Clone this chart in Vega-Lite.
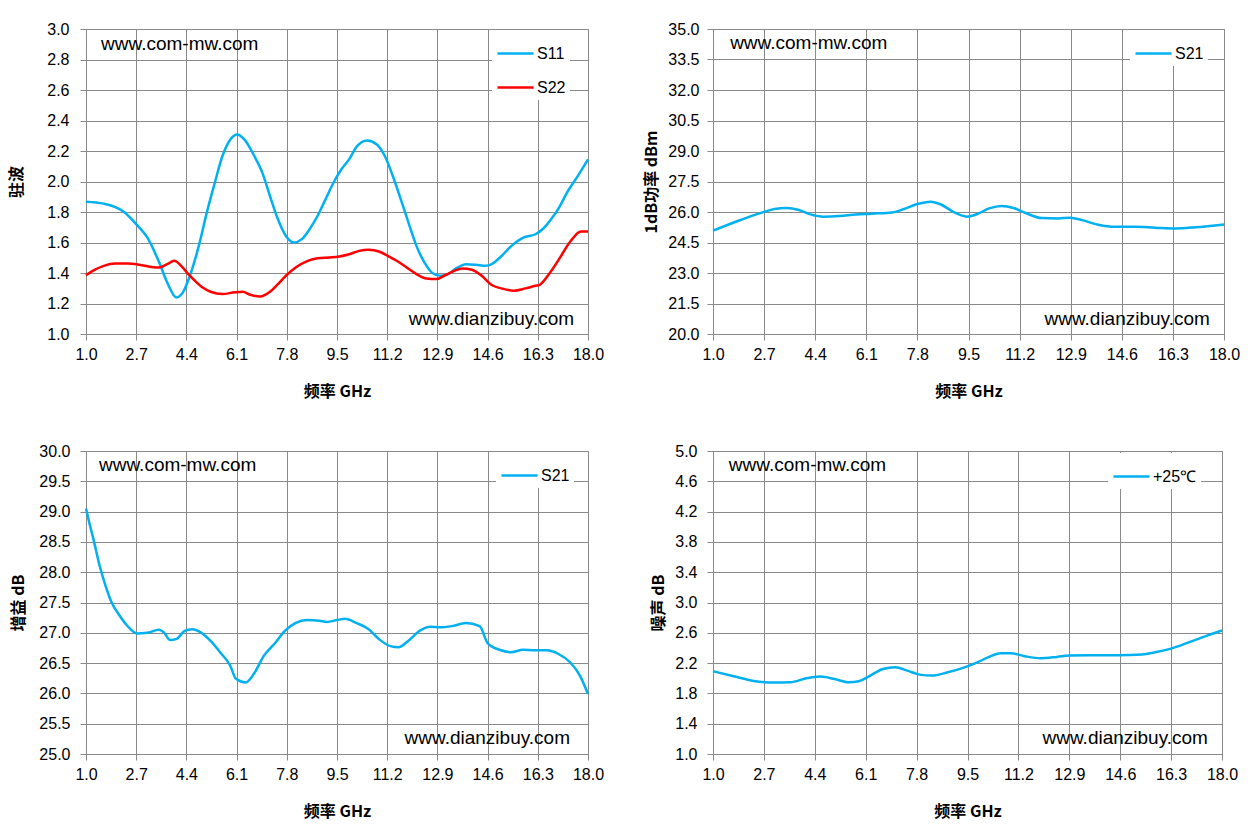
{
  "$schema": "https://vega.github.io/schema/vega-lite/v6.json",
  "padding": {"top": 20, "left": 8, "right": 5, "bottom": 5},
  "background": "white",
  "datasets": {
    "vswr": [
      {"f": 1.0, "v": 1.868, "s": "S11"}, {"f": 1.6, "v": 1.855, "s": "S11"}, {"f": 2.27, "v": 1.803, "s": "S11"},
      {"f": 2.7, "v": 1.72, "s": "S11"}, {"f": 3.08, "v": 1.632, "s": "S11"}, {"f": 3.48, "v": 1.469, "s": "S11"},
      {"f": 3.75, "v": 1.338, "s": "S11"}, {"f": 4.06, "v": 1.24, "s": "S11"}, {"f": 4.28, "v": 1.273, "s": "S11"},
      {"f": 4.55, "v": 1.4, "s": "S11"}, {"f": 4.82, "v": 1.578, "s": "S11"}, {"f": 5.09, "v": 1.796, "s": "S11"},
      {"f": 5.36, "v": 1.99, "s": "S11"}, {"f": 5.62, "v": 2.167, "s": "S11"}, {"f": 5.89, "v": 2.276, "s": "S11"},
      {"f": 6.12, "v": 2.309, "s": "S11"}, {"f": 6.36, "v": 2.276, "s": "S11"}, {"f": 6.7, "v": 2.167, "s": "S11"},
      {"f": 6.97, "v": 2.058, "s": "S11"}, {"f": 7.23, "v": 1.905, "s": "S11"}, {"f": 7.5, "v": 1.752, "s": "S11"},
      {"f": 7.77, "v": 1.643, "s": "S11"}, {"f": 8.04, "v": 1.6, "s": "S11"}, {"f": 8.31, "v": 1.622, "s": "S11"},
      {"f": 8.57, "v": 1.687, "s": "S11"}, {"f": 8.84, "v": 1.774, "s": "S11"}, {"f": 9.11, "v": 1.883, "s": "S11"},
      {"f": 9.38, "v": 1.992, "s": "S11"}, {"f": 9.65, "v": 2.08, "s": "S11"}, {"f": 9.91, "v": 2.145, "s": "S11"},
      {"f": 10.18, "v": 2.232, "s": "S11"}, {"f": 10.52, "v": 2.269, "s": "S11"}, {"f": 10.85, "v": 2.243, "s": "S11"},
      {"f": 11.12, "v": 2.167, "s": "S11"}, {"f": 11.39, "v": 2.036, "s": "S11"}, {"f": 11.66, "v": 1.883, "s": "S11"},
      {"f": 11.92, "v": 1.73, "s": "S11"}, {"f": 12.19, "v": 1.578, "s": "S11"}, {"f": 12.46, "v": 1.469, "s": "S11"},
      {"f": 12.73, "v": 1.4, "s": "S11"}, {"f": 13.0, "v": 1.382, "s": "S11"}, {"f": 13.27, "v": 1.393, "s": "S11"},
      {"f": 13.53, "v": 1.43, "s": "S11"}, {"f": 13.87, "v": 1.458, "s": "S11"}, {"f": 14.2, "v": 1.454, "s": "S11"},
      {"f": 14.54, "v": 1.447, "s": "S11"}, {"f": 14.74, "v": 1.458, "s": "S11"}, {"f": 15.01, "v": 1.5, "s": "S11"},
      {"f": 15.41, "v": 1.578, "s": "S11"}, {"f": 15.81, "v": 1.632, "s": "S11"}, {"f": 16.22, "v": 1.654, "s": "S11"},
      {"f": 16.48, "v": 1.69, "s": "S11"}, {"f": 16.75, "v": 1.752, "s": "S11"}, {"f": 17.02, "v": 1.829, "s": "S11"},
      {"f": 17.29, "v": 1.927, "s": "S11"}, {"f": 17.69, "v": 2.047, "s": "S11"}, {"f": 18.0, "v": 2.145, "s": "S11"},
      {"f": 1.0, "v": 1.386, "s": "S22"}, {"f": 1.34, "v": 1.425, "s": "S22"}, {"f": 1.6, "v": 1.447, "s": "S22"},
      {"f": 2.0, "v": 1.462, "s": "S22"}, {"f": 2.41, "v": 1.462, "s": "S22"}, {"f": 2.81, "v": 1.454, "s": "S22"},
      {"f": 3.21, "v": 1.44, "s": "S22"}, {"f": 3.48, "v": 1.436, "s": "S22"}, {"f": 3.75, "v": 1.458, "s": "S22"},
      {"f": 3.99, "v": 1.48, "s": "S22"}, {"f": 4.22, "v": 1.447, "s": "S22"}, {"f": 4.42, "v": 1.403, "s": "S22"},
      {"f": 4.69, "v": 1.349, "s": "S22"}, {"f": 4.95, "v": 1.305, "s": "S22"}, {"f": 5.22, "v": 1.277, "s": "S22"},
      {"f": 5.62, "v": 1.262, "s": "S22"}, {"f": 6.03, "v": 1.273, "s": "S22"}, {"f": 6.3, "v": 1.277, "s": "S22"},
      {"f": 6.56, "v": 1.257, "s": "S22"}, {"f": 6.9, "v": 1.246, "s": "S22"}, {"f": 7.23, "v": 1.277, "s": "S22"},
      {"f": 7.5, "v": 1.327, "s": "S22"}, {"f": 7.77, "v": 1.382, "s": "S22"}, {"f": 8.1, "v": 1.436, "s": "S22"},
      {"f": 8.51, "v": 1.48, "s": "S22"}, {"f": 8.84, "v": 1.497, "s": "S22"}, {"f": 9.24, "v": 1.502, "s": "S22"},
      {"f": 9.58, "v": 1.508, "s": "S22"}, {"f": 9.91, "v": 1.523, "s": "S22"}, {"f": 10.25, "v": 1.545, "s": "S22"},
      {"f": 10.58, "v": 1.552, "s": "S22"}, {"f": 10.92, "v": 1.541, "s": "S22"}, {"f": 11.26, "v": 1.508, "s": "S22"},
      {"f": 11.52, "v": 1.48, "s": "S22"}, {"f": 11.86, "v": 1.436, "s": "S22"}, {"f": 12.19, "v": 1.393, "s": "S22"},
      {"f": 12.53, "v": 1.364, "s": "S22"}, {"f": 12.86, "v": 1.36, "s": "S22"}, {"f": 13.13, "v": 1.382, "s": "S22"},
      {"f": 13.47, "v": 1.414, "s": "S22"}, {"f": 13.74, "v": 1.43, "s": "S22"}, {"f": 14.07, "v": 1.421, "s": "S22"},
      {"f": 14.4, "v": 1.382, "s": "S22"}, {"f": 14.74, "v": 1.321, "s": "S22"}, {"f": 15.07, "v": 1.299, "s": "S22"},
      {"f": 15.48, "v": 1.284, "s": "S22"}, {"f": 15.88, "v": 1.299, "s": "S22"}, {"f": 16.22, "v": 1.316, "s": "S22"},
      {"f": 16.35, "v": 1.321, "s": "S22"}, {"f": 16.68, "v": 1.393, "s": "S22"}, {"f": 17.02, "v": 1.491, "s": "S22"},
      {"f": 17.42, "v": 1.611, "s": "S22"}, {"f": 17.76, "v": 1.672, "s": "S22"}, {"f": 18.0, "v": 1.672, "s": "S22"}
    ],
    "p1db": [
      {"f": 1.0, "v": 25.08, "s": "S21"}, {"f": 1.85, "v": 25.57, "s": "S21"}, {"f": 2.65, "v": 25.98, "s": "S21"},
      {"f": 3.05, "v": 26.15, "s": "S21"}, {"f": 3.45, "v": 26.2, "s": "S21"}, {"f": 3.86, "v": 26.1, "s": "S21"},
      {"f": 4.27, "v": 25.87, "s": "S21"}, {"f": 4.67, "v": 25.77, "s": "S21"}, {"f": 5.21, "v": 25.8, "s": "S21"},
      {"f": 5.75, "v": 25.88, "s": "S21"}, {"f": 6.29, "v": 25.92, "s": "S21"}, {"f": 6.96, "v": 25.98, "s": "S21"},
      {"f": 7.36, "v": 26.15, "s": "S21"}, {"f": 7.77, "v": 26.38, "s": "S21"}, {"f": 8.24, "v": 26.51, "s": "S21"},
      {"f": 8.57, "v": 26.38, "s": "S21"}, {"f": 8.98, "v": 26.02, "s": "S21"}, {"f": 9.45, "v": 25.77, "s": "S21"},
      {"f": 9.79, "v": 25.9, "s": "S21"}, {"f": 10.19, "v": 26.18, "s": "S21"}, {"f": 10.6, "v": 26.3, "s": "S21"},
      {"f": 11.0, "v": 26.2, "s": "S21"}, {"f": 11.4, "v": 25.95, "s": "S21"}, {"f": 11.94, "v": 25.7, "s": "S21"},
      {"f": 12.48, "v": 25.68, "s": "S21"}, {"f": 12.88, "v": 25.72, "s": "S21"}, {"f": 13.28, "v": 25.6, "s": "S21"},
      {"f": 13.82, "v": 25.37, "s": "S21"}, {"f": 14.36, "v": 25.27, "s": "S21"}, {"f": 15.03, "v": 25.27, "s": "S21"},
      {"f": 15.7, "v": 25.23, "s": "S21"}, {"f": 16.38, "v": 25.19, "s": "S21"}, {"f": 17.05, "v": 25.25, "s": "S21"},
      {"f": 18.0, "v": 25.39, "s": "S21"}
    ],
    "gain": [
      {"f": 1.0, "v": 29.05, "s": "S21"}, {"f": 1.12, "v": 28.8, "s": "S21"}, {"f": 1.25, "v": 28.55, "s": "S21"},
      {"f": 1.46, "v": 28.11, "s": "S21"}, {"f": 1.66, "v": 27.78, "s": "S21"}, {"f": 1.86, "v": 27.51, "s": "S21"},
      {"f": 2.13, "v": 27.29, "s": "S21"}, {"f": 2.39, "v": 27.12, "s": "S21"}, {"f": 2.73, "v": 26.99, "s": "S21"},
      {"f": 3.07, "v": 27.0, "s": "S21"}, {"f": 3.47, "v": 27.05, "s": "S21"}, {"f": 3.63, "v": 27.01, "s": "S21"},
      {"f": 3.85, "v": 26.88, "s": "S21"}, {"f": 4.07, "v": 26.9, "s": "S21"}, {"f": 4.34, "v": 27.03, "s": "S21"},
      {"f": 4.6, "v": 27.06, "s": "S21"}, {"f": 4.87, "v": 27.01, "s": "S21"}, {"f": 5.21, "v": 26.87, "s": "S21"},
      {"f": 5.54, "v": 26.68, "s": "S21"}, {"f": 5.88, "v": 26.46, "s": "S21"}, {"f": 6.08, "v": 26.24, "s": "S21"},
      {"f": 6.41, "v": 26.18, "s": "S21"}, {"f": 6.68, "v": 26.32, "s": "S21"}, {"f": 7.02, "v": 26.62, "s": "S21"},
      {"f": 7.42, "v": 26.84, "s": "S21"}, {"f": 7.75, "v": 27.04, "s": "S21"}, {"f": 8.09, "v": 27.16, "s": "S21"},
      {"f": 8.49, "v": 27.21, "s": "S21"}, {"f": 8.89, "v": 27.2, "s": "S21"}, {"f": 9.16, "v": 27.18, "s": "S21"},
      {"f": 9.5, "v": 27.21, "s": "S21"}, {"f": 9.77, "v": 27.23, "s": "S21"}, {"f": 10.17, "v": 27.16, "s": "S21"},
      {"f": 10.57, "v": 27.06, "s": "S21"}, {"f": 10.91, "v": 26.9, "s": "S21"}, {"f": 11.31, "v": 26.78, "s": "S21"},
      {"f": 11.58, "v": 26.76, "s": "S21"}, {"f": 11.92, "v": 26.87, "s": "S21"}, {"f": 12.32, "v": 27.04, "s": "S21"},
      {"f": 12.66, "v": 27.1, "s": "S21"}, {"f": 12.99, "v": 27.09, "s": "S21"}, {"f": 13.39, "v": 27.11, "s": "S21"},
      {"f": 13.86, "v": 27.16, "s": "S21"}, {"f": 14.33, "v": 27.11, "s": "S21"}, {"f": 14.6, "v": 26.83, "s": "S21"},
      {"f": 15.0, "v": 26.72, "s": "S21"}, {"f": 15.4, "v": 26.68, "s": "S21"}, {"f": 15.8, "v": 26.72, "s": "S21"},
      {"f": 16.2, "v": 26.71, "s": "S21"}, {"f": 16.6, "v": 26.71, "s": "S21"}, {"f": 17.0, "v": 26.65, "s": "S21"},
      {"f": 17.4, "v": 26.51, "s": "S21"}, {"f": 17.73, "v": 26.29, "s": "S21"}, {"f": 18.0, "v": 25.99, "s": "S21"}
    ],
    "nf": [
      {"f": 1.0, "v": 2.093, "s": "+25℃"}, {"f": 1.69, "v": 2.026, "s": "+25℃"}, {"f": 2.36, "v": 1.965, "s": "+25℃"},
      {"f": 3.04, "v": 1.943, "s": "+25℃"}, {"f": 3.58, "v": 1.947, "s": "+25℃"}, {"f": 4.12, "v": 2.0, "s": "+25℃"},
      {"f": 4.59, "v": 2.022, "s": "+25℃"}, {"f": 5.06, "v": 1.99, "s": "+25℃"}, {"f": 5.54, "v": 1.947, "s": "+25℃"},
      {"f": 5.87, "v": 1.96, "s": "+25℃"}, {"f": 6.21, "v": 2.026, "s": "+25℃"}, {"f": 6.68, "v": 2.123, "s": "+25℃"},
      {"f": 7.09, "v": 2.145, "s": "+25℃"}, {"f": 7.49, "v": 2.1, "s": "+25℃"}, {"f": 7.9, "v": 2.048, "s": "+25℃"},
      {"f": 8.3, "v": 2.035, "s": "+25℃"}, {"f": 8.84, "v": 2.079, "s": "+25℃"}, {"f": 9.38, "v": 2.141, "s": "+25℃"},
      {"f": 9.79, "v": 2.203, "s": "+25℃"}, {"f": 10.2, "v": 2.278, "s": "+25℃"}, {"f": 10.6, "v": 2.33, "s": "+25℃"},
      {"f": 10.94, "v": 2.33, "s": "+25℃"}, {"f": 11.41, "v": 2.291, "s": "+25℃"}, {"f": 11.95, "v": 2.264, "s": "+25℃"},
      {"f": 12.49, "v": 2.282, "s": "+25℃"}, {"f": 12.9, "v": 2.3, "s": "+25℃"}, {"f": 13.57, "v": 2.304, "s": "+25℃"},
      {"f": 14.52, "v": 2.304, "s": "+25℃"}, {"f": 15.33, "v": 2.313, "s": "+25℃"}, {"f": 15.73, "v": 2.339, "s": "+25℃"},
      {"f": 16.27, "v": 2.388, "s": "+25℃"}, {"f": 16.82, "v": 2.463, "s": "+25℃"}, {"f": 17.36, "v": 2.542, "s": "+25℃"},
      {"f": 18.0, "v": 2.63, "s": "+25℃"}
    ]
  },
  "columns": 2,
  "spacing": {"row": 117, "column": 125},
  "bounds": "flush",
  "resolve": {
    "scale": {"x": "independent", "y": "independent", "color": "independent"},
    "legend": {"color": "independent"}
  },
  "concat": [
    {
      "width": 502,
      "height": 305,
      "layer": [
        {
          "data": {"name": "vswr"},
          "mark": {"type": "line", "strokeWidth": 2.5, "interpolate": "monotone"},
          "encoding": {
            "x": {"field": "f", "type": "quantitative", "scale": {"domain": [1, 18], "nice": false, "zero": false},
                  "axis": {"values": [1, 2.7, 4.4, 6.1, 7.8, 9.5, 11.2, 12.9, 14.6, 16.3, 18], "tickCount": 20, "format": ".1f", "title": "频率  GHz"}},
            "y": {"field": "v", "type": "quantitative", "scale": {"domain": [1, 3], "nice": false, "zero": false},
                  "axis": {"values": [1, 1.2, 1.4, 1.6, 1.8, 2, 2.2, 2.4, 2.6, 2.8, 3], "tickCount": 20, "format": ".1f", "title": "驻波", "labelPadding": 11, "titlePadding": 22}},
            "color": {"field": "s", "type": "nominal", "title": null,
                      "scale": {"domain": ["S11", "S22"], "range": ["#00B0F0", "#FF0000"]},
                      "legend": {"orient": "none", "legendX": 406, "legendY": 1}}
          }
        },
        {
          "data": {"values": [{}]},
          "mark": {"type": "text", "text": "www.com-mw.com", "align": "left", "baseline": "middle"},
          "encoding": {"x": {"datum": 1.51, "type": "quantitative"}, "y": {"datum": 2.9, "type": "quantitative"}}
        },
        {
          "data": {"values": [{}]},
          "mark": {"type": "text", "text": "www.dianzibuy.com", "align": "right", "baseline": "middle"},
          "encoding": {"x": {"datum": 17.53, "type": "quantitative"}, "y": {"datum": 1.1, "type": "quantitative"}}
        }
      ]
    },
    {
      "width": 511,
      "height": 305,
      "layer": [
        {
          "data": {"name": "p1db"},
          "mark": {"type": "line", "strokeWidth": 2.5, "interpolate": "monotone"},
          "encoding": {
            "x": {"field": "f", "type": "quantitative", "scale": {"domain": [1, 18], "nice": false, "zero": false},
                  "axis": {"values": [1, 2.7, 4.4, 6.1, 7.8, 9.5, 11.2, 12.9, 14.6, 16.3, 18], "tickCount": 20, "format": ".1f", "title": "频率  GHz"}},
            "y": {"field": "v", "type": "quantitative", "scale": {"domain": [20, 35], "nice": false, "zero": false},
                  "axis": {"values": [20, 21.5, 23, 24.5, 26, 27.5, 29, 30.5, 32, 33.5, 35], "tickCount": 20, "format": ".1f", "title": "1dB功率 dBm", "labelPadding": 8, "titlePadding": 8}},
            "color": {"field": "s", "type": "nominal", "title": null,
                      "scale": {"domain": ["S21"], "range": ["#00B0F0"]},
                      "legend": {"orient": "none", "legendX": 417, "legendY": 1}}
          }
        },
        {
          "data": {"values": [{}]},
          "mark": {"type": "text", "text": "www.com-mw.com", "align": "left", "baseline": "middle"},
          "encoding": {"x": {"datum": 1.57, "type": "quantitative"}, "y": {"datum": 34.29, "type": "quantitative"}}
        },
        {
          "data": {"values": [{}]},
          "mark": {"type": "text", "text": "www.dianzibuy.com", "align": "right", "baseline": "middle"},
          "encoding": {"x": {"datum": 17.53, "type": "quantitative"}, "y": {"datum": 20.72, "type": "quantitative"}}
        }
      ]
    },
    {
      "width": 502,
      "height": 303,
      "layer": [
        {
          "data": {"name": "gain"},
          "mark": {"type": "line", "strokeWidth": 2.5, "interpolate": "monotone"},
          "encoding": {
            "x": {"field": "f", "type": "quantitative", "scale": {"domain": [1, 18], "nice": false, "zero": false},
                  "axis": {"values": [1, 2.7, 4.4, 6.1, 7.8, 9.5, 11.2, 12.9, 14.6, 16.3, 18], "tickCount": 20, "format": ".1f", "title": "频率  GHz"}},
            "y": {"field": "v", "type": "quantitative", "scale": {"domain": [25, 30], "nice": false, "zero": false},
                  "axis": {"values": [25, 25.5, 26, 26.5, 27, 27.5, 28, 28.5, 29, 29.5, 30], "tickCount": 20, "format": ".1f", "title": "增益 dB", "labelPadding": 10, "titlePadding": 12}},
            "color": {"field": "s", "type": "nominal", "title": null,
                      "scale": {"domain": ["S21"], "range": ["#00B0F0"]},
                      "legend": {"orient": "none", "legendX": 410, "legendY": 1}}
          }
        },
        {
          "data": {"values": [{}]},
          "mark": {"type": "text", "text": "www.com-mw.com", "align": "left", "baseline": "middle"},
          "encoding": {"x": {"datum": 1.44, "type": "quantitative"}, "y": {"datum": 29.77, "type": "quantitative"}}
        },
        {
          "data": {"values": [{}]},
          "mark": {"type": "text", "text": "www.dianzibuy.com", "align": "right", "baseline": "middle"},
          "encoding": {"x": {"datum": 17.39, "type": "quantitative"}, "y": {"datum": 25.27, "type": "quantitative"}}
        }
      ]
    },
    {
      "width": 509,
      "height": 303,
      "layer": [
        {
          "data": {"name": "nf"},
          "mark": {"type": "line", "strokeWidth": 2.5, "interpolate": "monotone"},
          "encoding": {
            "x": {"field": "f", "type": "quantitative", "scale": {"domain": [1, 18], "nice": false, "zero": false},
                  "axis": {"values": [1, 2.7, 4.4, 6.1, 7.8, 9.5, 11.2, 12.9, 14.6, 16.3, 18], "tickCount": 20, "format": ".1f", "title": "频率  GHz"}},
            "y": {"field": "v", "type": "quantitative", "scale": {"domain": [1, 5], "nice": false, "zero": false},
                  "axis": {"values": [1, 1.4, 1.8, 2.2, 2.6, 3, 3.4, 3.8, 4.2, 4.6, 5], "tickCount": 20, "format": ".1f", "title": "噪声 dB", "labelPadding": 10, "titlePadding": 8}},
            "color": {"field": "s", "type": "nominal", "title": null,
                      "scale": {"domain": ["+25℃"], "range": ["#00B0F0"]},
                      "legend": {"orient": "none", "legendX": 395, "legendY": 2}}
          }
        },
        {
          "data": {"values": [{}]},
          "mark": {"type": "text", "text": "www.com-mw.com", "align": "left", "baseline": "middle"},
          "encoding": {"x": {"datum": 1.53, "type": "quantitative"}, "y": {"datum": 4.82, "type": "quantitative"}}
        },
        {
          "data": {"values": [{}]},
          "mark": {"type": "text", "text": "www.dianzibuy.com", "align": "right", "baseline": "middle"},
          "encoding": {"x": {"datum": 17.53, "type": "quantitative"}, "y": {"datum": 1.21, "type": "quantitative"}}
        }
      ]
    }
  ],
  "config": {
    "view": {"stroke": "#898989", "strokeWidth": 1},
    "axis": {
      "grid": true,
      "gridColor": "#898989",
      "gridOpacity": 1,
      "domainColor": "#898989",
      "tickColor": "#898989",
      "tickSize": 6,
      "labelOverlap": false,
      "labelFlush": false,
      "labelFont": "Liberation Sans",
      "labelFontSize": 16,
      "labelColor": "#000000",
      "titleFont": "Noto Sans CJK SC",
      "titleFontSize": 16,
      "titleFontWeight": "bold",
      "titleColor": "#000000"
    },
    "axisX": {"labelPadding": 6, "titlePadding": 21},
    "text": {"font": "Liberation Sans", "fontSize": 19, "color": "#000000"},
    "legend": {
      "fillColor": "white",
      "padding": 4,
      "symbolType": "stroke",
      "symbolSize": 1300,
      "symbolStrokeWidth": 2.5,
      "labelFont": "Liberation Sans",
      "labelFontSize": 16,
      "labelColor": "#000000",
      "rowPadding": 6,
      "labelOffset": 2
    }
  }
}
